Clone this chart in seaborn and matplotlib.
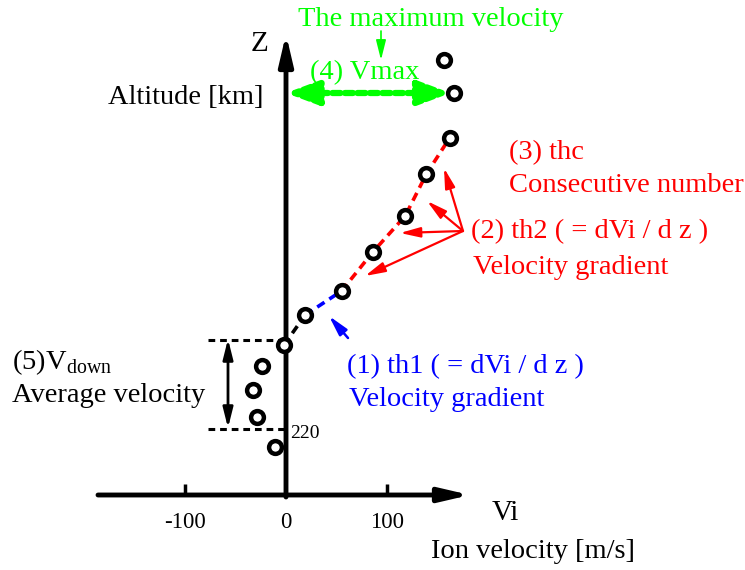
import matplotlib
matplotlib.use("Agg")
import matplotlib.pyplot as plt
import seaborn as sns
import pandas as pd

# ---- data ----
ion_velocity = [-11, -29, -33, -24, -2, 19, 55, 86, 118, 139, 162, 166, 156]   # m/s
altitude = [214, 224, 233, 241, 248, 258, 266, 279, 291, 305, 317, 332, 343]    # km
x_ticks = [-100, 0, 100]
x_tick_labels = ["-100", "0", "100"]
ref_altitude = 220
vdown_range = [ref_altitude, 250]
vmax_value = 167
vmax_altitude = 332

sns.set_theme(style="white")
plt.rcParams['font.family'] = ['Liberation Serif', 'DejaVu Serif']
plt.rcParams['text.color'] = 'black'

W, H = 745, 570
fig = plt.figure(figsize=(W / 100, H / 100), dpi=100)
ax = fig.add_axes([0, 0, 1, 1])
ax.set_axis_off()

# pixel -> data mapping (layout helper)
X0, SX = 286, 1.01      # pixel of v=0, px per m/s
Y0, SY = 429, 3.0       # pixel of z=220, px per km
ax.set_xlim((0 - X0) / SX, (W - X0) / SX)
ax.set_ylim(ref_altitude - (H - Y0) / SY, ref_altitude + Y0 / SY)

def P(px, py):
    return ((px - X0) / SX, ref_altitude + (Y0 - py) / SY)

FS = 20.5
df = pd.DataFrame({"v": ion_velocity, "z": altitude})

# axes arrows
ax.annotate("", xy=P(470, 495), xytext=P(98, 495),
            arrowprops=dict(arrowstyle="-|>,head_length=1.5,head_width=0.35", lw=3.5, color="black",
                            shrinkA=0, shrinkB=0))
ax.annotate("", xy=P(286, 34), xytext=P(286, 497),
            arrowprops=dict(arrowstyle="-|>,head_length=1.5,head_width=0.35", lw=3.5, color="black",
                            shrinkA=0, shrinkB=0))
for t, lab in zip(x_ticks, x_tick_labels):
    if t != 0:
        ax.plot([t, t], [P(0, 495)[1], P(0, 484)[1]], color="black", lw=2.5, solid_capstyle="butt")
    ax.text(t, P(0, 522)[1], lab, ha="center", va="center", fontsize=16.5)

# dashed segments
seg_black = df.iloc[4:6]
seg_blue = df.iloc[5:7]
seg_red = df.iloc[6:11]
for seg, col in [(seg_black, "black"), (seg_blue, "blue"), (seg_red, "red")]:
    sns.lineplot(data=seg, x="v", y="z", sort=False, ax=ax, color=col, lw=2.6,
                 linestyle=(0, (2.4, 1.6)), estimator=None)

# points
sns.scatterplot(data=df, x="v", y="z", ax=ax, s=85, facecolor="white",
                edgecolor="black", linewidth=3.2, zorder=5)
ax.set_xlabel("")
ax.set_ylabel("")

# (4) Vmax green double arrow
ax.annotate("", xy=(vmax_value - 4, vmax_altitude), xytext=(0, vmax_altitude),
            arrowprops=dict(arrowstyle="<|-|>,head_length=1.6,head_width=0.6", lw=4.5, color="#00ff00",
                            linestyle=(0, (1.3, 0.7)), shrinkA=0, shrinkB=0))
ax.text(*P(365, 73), "(4) Vmax", color="#00ff00", fontsize=FS, ha="center", va="center")
ax.text(*P(431, 19), "The maximum velocity", color="#00ff00", fontsize=FS, ha="center", va="center")
ax.annotate("", xy=P(381, 60), xytext=P(381, 31),
            arrowprops=dict(arrowstyle="-|>,head_length=1.0,head_width=0.25", lw=1.2, color="#00ff00",
                            shrinkA=0, shrinkB=0))

# (2) red arrows
origin = P(463, 231)
for tip in [(444, 168), (427, 201), (400, 233), (365, 276)]:
    ax.annotate("", xy=P(*tip), xytext=origin,
                arrowprops=dict(arrowstyle="-|>,head_length=1.0,head_width=0.25", lw=1.6, color="red",
                                shrinkA=0, shrinkB=0))

# (1) blue arrow
ax.annotate("", xy=P(329, 316), xytext=P(348, 338),
            arrowprops=dict(arrowstyle="-|>,head_length=1.0,head_width=0.25", lw=1.8, color="blue",
                            shrinkA=0, shrinkB=0))

# (5) Vdown dashed bounds and arrow
ax.plot([P(208, 0)[0], 0], [vdown_range[1] - 0.3, vdown_range[1] - 0.3], color="black", lw=2.2,
        linestyle=(0, (2.2, 1.6)))
ax.plot([P(208, 0)[0], 0], [vdown_range[0], vdown_range[0]], color="black", lw=2.2,
        linestyle=(0, (2.2, 1.6)))
ax.annotate("", xy=P(228, 339), xytext=P(228, 428),
            arrowprops=dict(arrowstyle="<|-|>,head_length=1.0,head_width=0.25", lw=2.0, color="black",
                            shrinkA=0, shrinkB=0))
ax.text(*P(290, 433), str(ref_altitude), fontsize=14, ha="left", va="center")

# texts
ax.text(*P(260, 44), "Z", fontsize=21, ha="center", va="center")
ax.text(*P(108, 97), "Altitude [km]", fontsize=FS, ha="left", va="center")
ax.text(*P(509, 153), "(3) thc", color="red", fontsize=FS, ha="left", va="center")
ax.text(*P(509, 186), "Consecutive number", color="red", fontsize=FS, ha="left", va="center")
ax.text(*P(471, 232), "(2) th2 ( = dVi / d z )", color="red", fontsize=FS, ha="left", va="center")
ax.text(*P(473, 267), "Velocity gradient", color="red", fontsize=FS, ha="left", va="center")
ax.text(*P(347, 367), "(1) th1 ( = dVi / d z )", color="blue", fontsize=FS, ha="left", va="center")
ax.text(*P(349, 400), "Velocity gradient", color="blue", fontsize=FS, ha="left", va="center")
ax.text(*P(12, 362), r"(5)V$_{\mathregular{down}}$", fontsize=FS, ha="left", va="center")
ax.text(*P(12, 395), "Average velocity", fontsize=FS, ha="left", va="center")
ax.text(*P(492, 513), "Vi", fontsize=21, ha="left", va="center")
ax.text(*P(431, 552), "Ion velocity [m/s]", fontsize=FS, ha="left", va="center")

fig.savefig("out.png", dpi=100)
